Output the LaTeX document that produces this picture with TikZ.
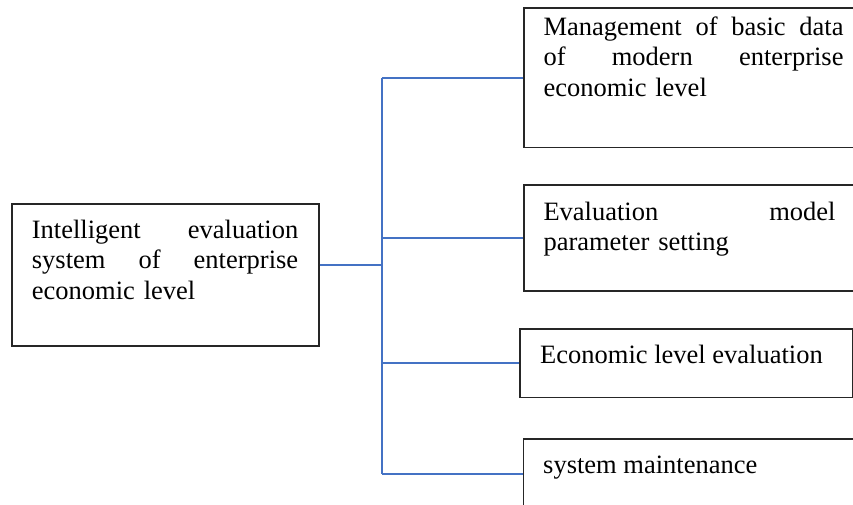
\documentclass[tikz,border=0pt]{standalone}
\usepackage{fontspec}
\setmainfont{Liberation Serif}
\usetikzlibrary{calc}
\definecolor{lineblue}{RGB}{68,114,196}
\begin{document}
\begin{tikzpicture}[x=1pt,y=-1pt,
  box/.style={draw=black!85, line width=1.5pt, inner sep=0pt, anchor=north west},
  txt/.style={anchor=base west, inner sep=0pt, align=left, font=\fontsize{26.5}{30.8}\selectfont},
  link/.style={draw=lineblue, line width=1.8pt}]
\useasboundingbox (0,0) rectangle (853,504);
\clip (0,0) rectangle (853,504);
% boxes
\node[box, minimum width=307pt, minimum height=142pt] (L) at (11,203) {};
\node[box, minimum width=340pt, minimum height=139.4pt] (B1) at (523.3,7.3) {};
\node[box, minimum width=340pt, minimum height=105.7pt] (B2) at (523.3,184.3) {};
\node[box, minimum width=332.4pt, minimum height=68.4pt] (B3) at (519.3,328.3) {};
\node[box, minimum width=340pt, minimum height=70pt] (B4) at (522.7,438.3) {};
% texts
\node[txt, text width=266.3pt] (TL) at (31.7,238) {Intelligent\hfill evaluation\\ system\hfill of\hfill enterprise\\ economic level};
\node[txt, text width=300pt] (T1) at (543.3,35) {Management\hfill of\hfill basic\hfill data\\ of\hfill modern\hfill enterprise\\ economic level};
\node[txt, text width=292pt] (T2) at (543.3,220) {Evaluation\hfill model\\ parameter setting};
\node[txt] (T3) at (540,363) {Economic level evaluation};
\node[txt] (T4) at (543,473) {system maintenance};
% connectors
\coordinate (j) at (382,265);
\draw[link] (L.east |- j) -- (j);
\draw[link] (j |- B1.west) -- (j |- B4.west);
\draw[link] (j |- B1.west) -- (B1.west);
\draw[link] (j |- B2.west) -- (B2.west);
\draw[link] (j |- B3.west) -- (B3.west);
\draw[link] (j |- B4.west) -- (B4.west);
\end{tikzpicture}
\end{document}
